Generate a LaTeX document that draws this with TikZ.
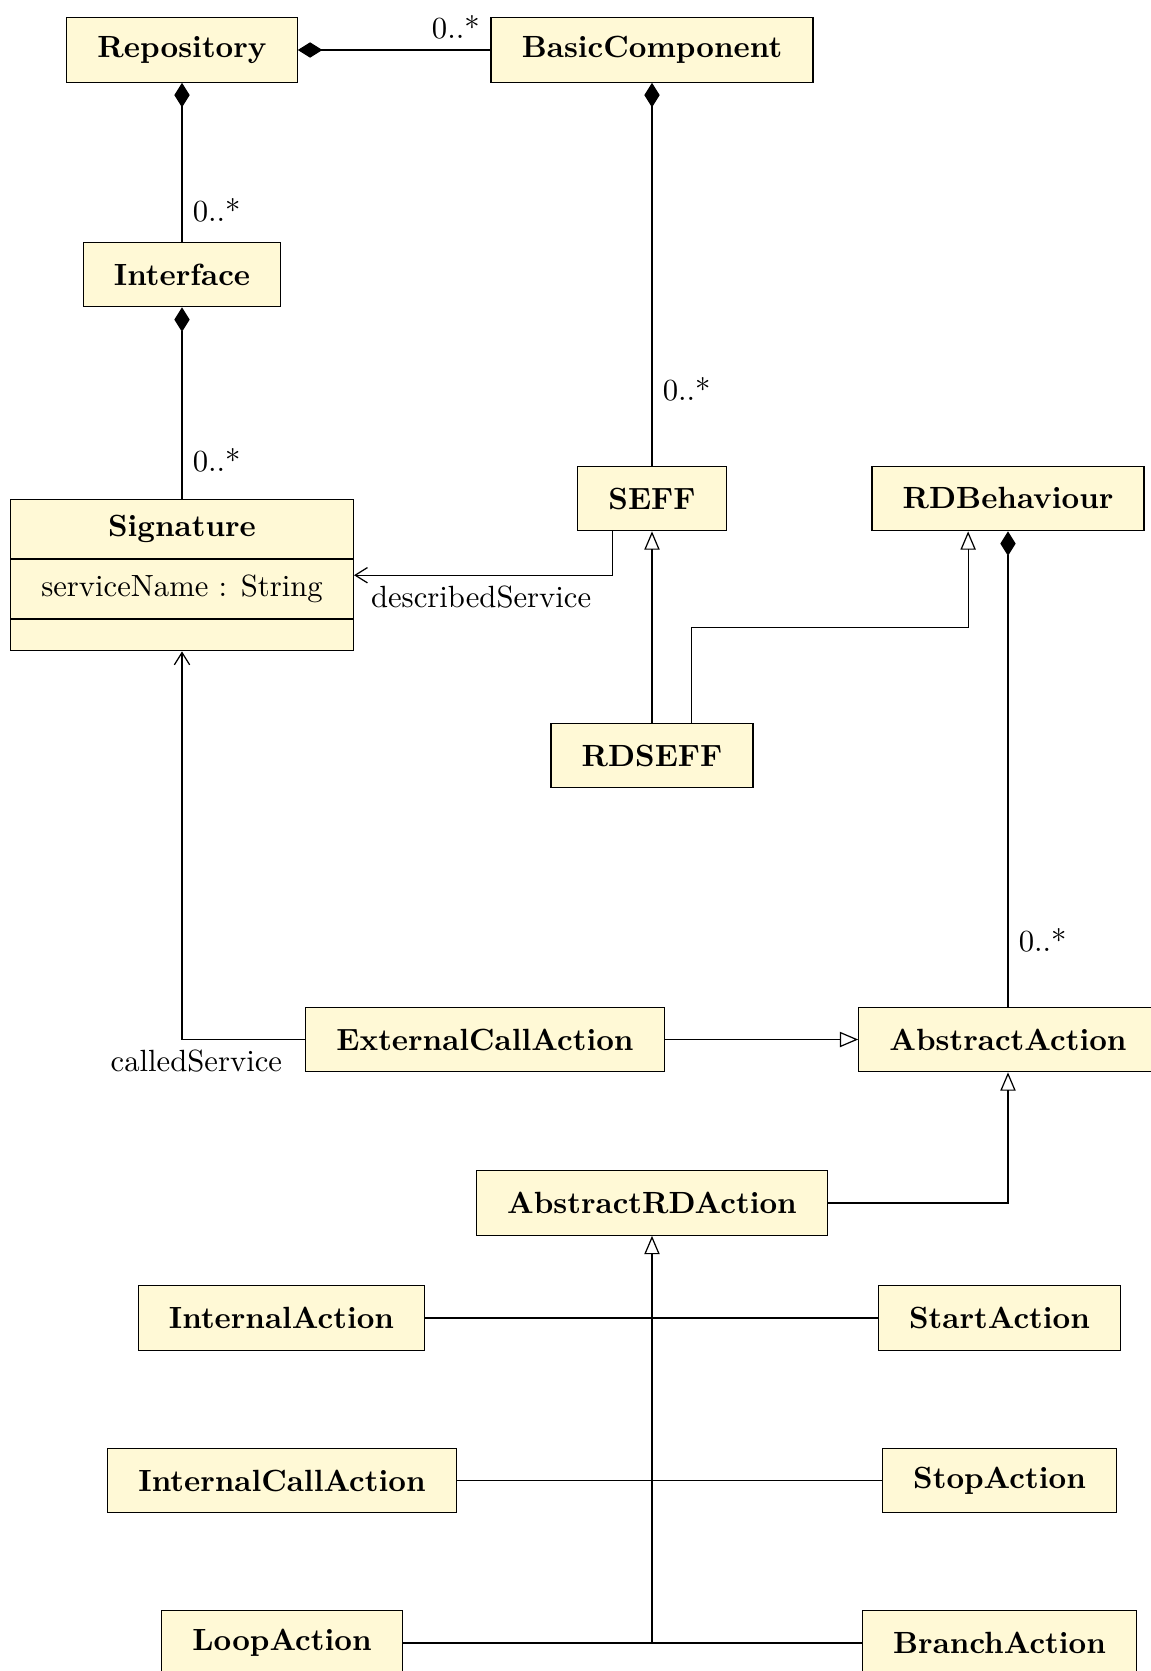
\documentclass[tikz,border=0pt]{standalone}
\usepackage{amsmath}
\usepackage{tikz}
\usetikzlibrary{arrows.meta,shapes.multipart}

\definecolor{classbg}{RGB}{255,249,214}

\tikzset{
  umlclass/.style={draw, fill=classbg, font=\bfseries, inner xsep=10pt, minimum height=21pt},
  comp/.style={{Diamond[length=8pt,width=5pt]}-},
  inherit/.style={-{Triangle[open,length=6pt,width=5pt]}},
  assoc/.style={-{Straight Barb[length=4pt,width=5pt]}}
}

\begin{document}
\begin{tikzpicture}[x=0.326pt,y=-0.326pt]
      \useasboundingbox (0,0) rectangle (1151,1671);
      % classes
      \node[umlclass] (Repository) at (182,50) {Repository};
      \node[umlclass] (BasicComponent) at (652,50) {BasicComponent};
      \node[umlclass] (Interface) at (182,274.5) {Interface};
      \node[draw, fill=classbg, rectangle split, rectangle split parts=3,
            inner xsep=10pt, inner ysep=5pt, anchor=north] (Signature) at (182,499)
        {\textbf{Signature} \nodepart{second} serviceName : String \nodepart{third} \rule{1pt}{0pt}};
      \node[umlclass] (SEFF) at (652,498.5) {SEFF};
      \node[umlclass] (RDBehaviour) at (1008,498.5) {RDBehaviour};
      \node[umlclass] (RDSEFF) at (652,755.5) {RDSEFF};
      \node[umlclass] (ExternalCallAction) at (485,1039.5) {ExternalCallAction};
      \node[umlclass] (AbstractAction) at (1008,1039.5) {AbstractAction};
      \node[umlclass] (AbstractRDAction) at (652,1203) {AbstractRDAction};
      \node[umlclass] (InternalAction) at (281.5,1318) {InternalAction};
      \node[umlclass] (StartAction) at (999.5,1318) {StartAction};
      \node[umlclass] (InternalCallAction) at (282,1480.5) {InternalCallAction};
      \node[umlclass] (StopAction) at (999.5,1480.5) {StopAction};
      \node[umlclass] (LoopAction) at (282,1643) {LoopAction};
      \node[umlclass] (BranchAction) at (999.5,1643) {BranchAction};
      % compositions
      \draw[comp] (Repository) -- node[pos=1,above left] {0..*} (BasicComponent);
      \draw[comp] (Repository) -- node[pos=0.8,right] {0..*} (Interface);
      \draw[comp] (Interface) -- node[pos=0.8,right] {0..*} (Signature);
      \draw[comp] (BasicComponent) -- node[pos=0.8,right] {0..*} (SEFF);
      \draw[comp] (RDBehaviour) -- node[pos=0.86,right] {0..*} (AbstractAction);
      % associations
      \draw[assoc] ([xshift=-13pt]SEFF.south) |- node[pos=1,below right,xshift=2pt] {describedService} (Signature.east);
      \draw[assoc] (ExternalCallAction) -| node[pos=0,below left,xshift=-4pt] {calledService} (Signature);
      % inheritance
      \draw[inherit] (RDSEFF) -- (SEFF);
      \draw[inherit] ([xshift=13pt]RDSEFF.north) -- ++(0,-95) -| ([xshift=-13pt]RDBehaviour.south);
      \draw[inherit] (ExternalCallAction) -- (AbstractAction);
      \draw[inherit] (AbstractRDAction) -| (AbstractAction);
      \draw[inherit] (LoopAction -| AbstractRDAction) -- (AbstractRDAction);
      \draw (InternalAction) -- (StartAction);
      \draw (InternalCallAction) -- (StopAction);
      \draw (LoopAction) -- (BranchAction);
    \end{tikzpicture}
\end{document}
